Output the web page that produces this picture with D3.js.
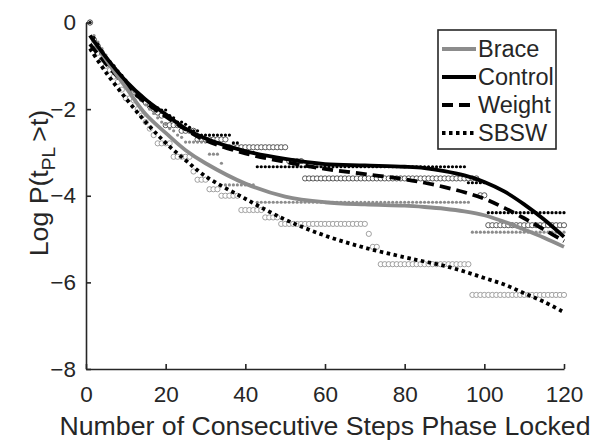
<!DOCTYPE html>
<html>
<head>
<meta charset="utf-8">
<script src="https://cdn.jsdelivr.net/npm/d3@7"></script>
<style>
  body { margin: 0; background: #fff; }
  text { font-family: "Liberation Sans", Arial, sans-serif; fill: #262626; }
</style>
</head>
<body>
<svg id="chart" width="593" height="442"></svg>
<script>
// fitted curves, sampled at these steps
const curveX = [1, 5, 10, 15, 20, 25, 30, 40, 50, 60, 70, 80, 85, 90, 95, 100, 105, 110, 115, 120];
const braceFit   = [-0.3, -0.85, -1.5, -2.12, -2.55, -2.95, -3.25, -3.72, -4.02, -4.15, -4.2, -4.23, -4.26, -4.3, -4.36, -4.45, -4.6, -4.78, -4.97, -5.18];
const controlFit = [-0.3, -0.8, -1.35, -1.78, -2.12, -2.45, -2.68, -2.97, -3.15, -3.27, -3.3, -3.33, -3.36, -3.43, -3.53, -3.68, -3.9, -4.2, -4.55, -4.95];
const weightFit  = [-0.5, -0.95, -1.45, -1.85, -2.17, -2.47, -2.72, -3.02, -3.22, -3.38, -3.5, -3.62, -3.7, -3.8, -3.92, -4.07, -4.28, -4.52, -4.78, -5.05];
const sbswFit    = [-0.6, -1.15, -1.75, -2.3, -2.78, -3.18, -3.55, -4.07, -4.55, -4.92, -5.2, -5.42, -5.52, -5.62, -5.75, -5.9, -6.05, -6.25, -6.45, -6.69];

// raw data: first values at steps 1,2,3..., then flat runs [from, to, value]
const braceEarly = [0, -0.3, -0.45, -0.6, -0.75, -0.9, -1.0, -1.12, -1.25, -1.35, -1.45, -1.6, -1.7, -1.8, -1.9, -2.0, -2.1, -2.2, -2.3, -2.35, -2.45, -2.5, -2.6, -2.65];
const braceRuns = [[25, 30, -2.76], [31, 33, -3.04], [34, 34, -3.25], [35, 42, -3.75], [43, 96, -4.15], [97, 120, -4.84]];
const controlEarly = [0, -0.35, -0.5, -0.65, -0.8, -0.9, -1.0, -1.12, -1.22, -1.33, -1.45, -1.55, -1.62, -1.7, -1.78, -1.85, -1.93, -1.97, -2.02, -2.02, -2.15, -2.2, -2.3, -2.3, -2.35, -2.42, -2.5, -2.5];
const controlRuns = [[29, 36, -2.6], [37, 38, -2.78], [39, 42, -3.0], [43, 95, -3.33], [96, 100, -3.7], [101, 120, -4.39]];
const weightEarly = [0, -0.4, -0.55, -0.7, -0.85, -0.97, -1.08, -1.2, -1.3, -1.42, -1.5, -1.6, -1.68, -1.77, -1.85, -1.93, -2.0, -2.08, -2.15, -2.37, -2.37, -2.37, -2.37, -2.5, -2.5, -2.5, -2.5];
const weightRuns = [[28, 35, -2.7], [36, 50, -2.88], [51, 54, -3.2], [55, 98, -3.6], [99, 100, -3.99], [101, 120, -4.68]];
const sbswEarly = [0, -0.5, -0.7, -0.85, -1.0, -1.1, -1.25, -1.37, -1.55, -1.75, -1.75, -1.8, -2.0, -2.15, -2.3, -2.45, -2.6, -2.79, -2.79, -2.79, -2.79];
const sbswRuns = [[22, 26, -3.1], [27, 27, -3.44], [28, 30, -3.63], [31, 33, -3.85], [34, 38, -4.0], [39, 44, -4.33], [45, 48, -4.5], [49, 70, -4.65], [71, 71, -4.88], [72, 73, -5.18], [74, 96, -5.58], [97, 120, -6.29]];

const xTicks = [0, 20, 40, 60, 80, 100, 120];
const yTicks = [0, -2, -4, -6, -8];
const seriesNames = ["Brace", "Control", "Weight", "SBSW"];

const svg = d3.select("#chart");
const x = d3.scaleLinear().domain([0, 120]).range([86, 564]);
const y = d3.scaleLinear().domain([-8, 0]).range([369, 22.5]);

function expand(early, runs) {
  const pts = early.map((v, i) => [i + 1, v]);
  runs.forEach(([a, b, v]) => { for (let s = a; s <= b; s++) pts.push([s, v]); });
  return pts;
}

// scatter
const scatter = [
  { pts: expand(sbswEarly, sbswRuns), r: 2.6, fill: "#fff", stroke: "#8a8a8a" },
  { pts: expand(weightEarly, weightRuns), r: 2.6, fill: "#fff", stroke: "#333" },
  { pts: expand(braceEarly, braceRuns), r: 1.6, fill: "#8c8c8c", stroke: "none" },
  { pts: expand(controlEarly, controlRuns), r: 1.6, fill: "#000", stroke: "none" }
];
scatter.forEach(s => {
  svg.append("g").selectAll("circle").data(s.pts).join("circle")
    .attr("cx", d => x(d[0])).attr("cy", d => y(d[1])).attr("r", s.r)
    .attr("fill", s.fill).attr("stroke", s.stroke).attr("stroke-width", 0.8);
});

// fitted lines
const styles = {
  Brace:   { data: braceFit,   color: "#8c8c8c", dash: null },
  Control: { data: controlFit, color: "#000", dash: null },
  Weight:  { data: weightFit,  color: "#000", dash: "11,6" },
  SBSW:    { data: sbswFit,    color: "#000", dash: "3.5,3.5" }
};
const line = d3.line().x(d => x(d[0])).y(d => y(d[1])).curve(d3.curveCatmullRom);
["SBSW", "Weight", "Brace", "Control"].forEach(n => {
  const st = styles[n];
  svg.append("path")
    .datum(curveX.map((v, i) => [v, st.data[i]]))
    .attr("d", line).attr("fill", "none")
    .attr("stroke", st.color).attr("stroke-width", 3.8)
    .attr("stroke-dasharray", st.dash);
});

// axes
const xAxis = svg.append("g").attr("transform", `translate(0,${y(-8)})`)
  .call(d3.axisBottom(x).tickValues(xTicks).tickSizeInner(-5).tickSizeOuter(0).tickPadding(17));
const yAxis = svg.append("g").attr("transform", `translate(${x(0)},0)`)
  .call(d3.axisLeft(y).tickValues(yTicks).tickSizeInner(-5).tickSizeOuter(0).tickPadding(10));
[xAxis, yAxis].forEach(a => {
  a.select(".domain").attr("stroke", "#262626").attr("stroke-width", 1.6);
  a.selectAll(".tick line").attr("stroke", "#262626").attr("stroke-width", 1.6);
  a.selectAll(".tick text").attr("font-size", 22.5).attr("fill", "#262626")
    .attr("font-family", "Liberation Sans, Arial, sans-serif");
});

svg.append("text").attr("x", 325).attr("y", 435).attr("text-anchor", "middle")
  .attr("font-size", 26.7).text("Number of Consecutive Steps Phase Locked");

const yl = svg.append("text").attr("transform", "translate(48,183) rotate(-90)")
  .attr("text-anchor", "middle").attr("font-size", 26.7);
yl.append("tspan").text("Log P(t");
yl.append("tspan").attr("font-size", 19).attr("dy", 7).text("PL");
yl.append("tspan").attr("dy", -7).text("\u2009>t)");

// legend
const lg = svg.append("g").attr("transform", "translate(438,30)");
lg.append("rect").attr("width", 118).attr("height", 119)
  .attr("fill", "#fff").attr("stroke", "#262626").attr("stroke-width", 1.6);
seriesNames.forEach((n, i) => {
  const st = styles[n];
  const cy = 19 + i * 28;
  lg.append("line").attr("x1", 4).attr("x2", 38).attr("y1", cy).attr("y2", cy)
    .attr("stroke", st.color).attr("stroke-width", 3.8).attr("stroke-dasharray", st.dash);
  lg.append("text").attr("x", 40).attr("y", cy).attr("dy", "0.36em")
    .attr("font-size", 23.5).attr("fill", "#000").text(n);
});
</script>
</body>
</html>
